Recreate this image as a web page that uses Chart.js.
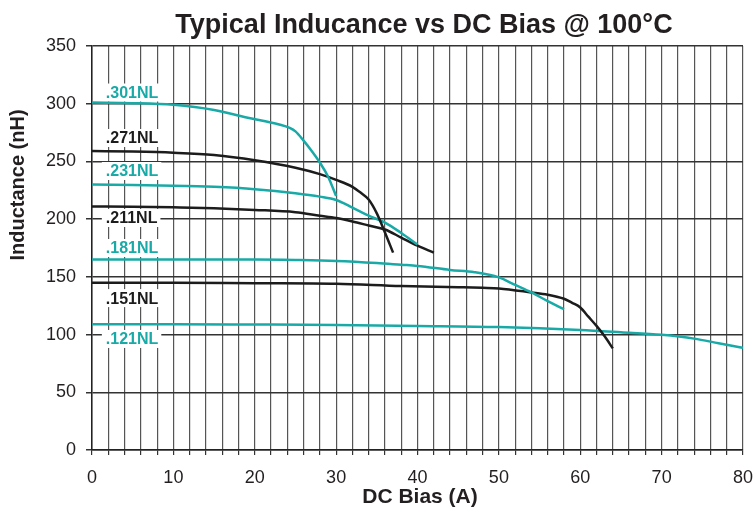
<!DOCTYPE html>
<html>
<head>
<meta charset="utf-8">
<script src="https://cdn.jsdelivr.net/npm/chart.js@4"></script>
<style>
    body { margin: 0; background: #fff; }
    #wrap { width: 753px; height: 512px; position: relative; }
</style>
</head>
<body>
<div id="wrap"><canvas id="chart"></canvas></div>
<script>
// curves, x = DC bias (A), y = inductance (nH)
const parts = [".301NL", ".271NL", ".231NL", ".211NL", ".181NL", ".151NL", ".121NL"];

const bias301 = [0, 5, 10, 15, 19, 23, 24.3, 25, 26, 27, 28, 29, 30];
const ind301 = [301, 300.5, 299, 294.5, 288, 282, 279, 276, 268, 259, 249, 237, 220];

const bias271 = [0, 5, 10, 15, 20, 25, 28, 30, 32, 33, 34, 35, 36, 37];
const ind271 = [259, 258.5, 257.5, 255.5, 251, 244.5, 239, 234, 228, 223, 217, 205, 188.5, 171];

const bias231 = [0, 5, 10, 15, 20, 25, 28, 30, 32, 34, 36, 38, 40];
const ind231 = [230, 229.5, 229, 228, 226, 222.5, 219.5, 216.6, 210, 203, 197, 188, 178];

const bias211 = [0, 5, 10, 15, 20, 25, 28, 30, 32, 34, 36, 38, 40, 42];
const ind211 = [211, 210.8, 210.2, 209.4, 208, 206, 203, 201, 198, 194.5, 191, 184, 177, 171];

const bias181 = [0, 10, 20, 25, 30, 35, 38, 40, 44, 47, 50, 52, 54, 56, 58];
const ind181 = [165, 165, 165, 164.6, 163.8, 162, 160.5, 159.5, 156, 154, 149.5, 143, 136.5, 129, 122];

const bias151 = [0, 10, 20, 30, 38, 45, 48, 50, 54, 56, 58, 59, 60, 61, 62, 63, 64];
const ind151 = [145, 145, 144.5, 144, 142, 141, 140.5, 140, 136.5, 134.5, 131, 127.5, 123.5, 115.5, 107.5, 98.5, 88];

const bias121 = [0, 10, 20, 30, 40, 50, 60, 65, 70, 74, 77, 80];
const ind121 = [109, 109, 108.7, 108.3, 107.5, 106.5, 104, 102, 99.8, 96.5, 92.5, 88.5];

// where each part name sits (data units)
const tagBias = 1.7;
const tagInd = [309.7, 270.3, 241.7, 201, 175, 131.6, 96.2];

const xTicks = [0, 10, 20, 30, 40, 50, 60, 70, 80];
const yTicks = [0, 50, 100, 150, 200, 250, 300, 350];

const TEAL = "#19aaa7";
const DARK = "#1c1c1c";
const FONT = "'Liberation Sans', Arial, sans-serif";

const series = [
    [bias301, ind301, TEAL],
    [bias271, ind271, DARK],
    [bias231, ind231, TEAL],
    [bias211, ind211, DARK],
    [bias181, ind181, TEAL],
    [bias151, ind151, DARK],
    [bias121, ind121, TEAL]
];

const toPoints = (xs, ys) => xs.map((x, i) => ({ x: x, y: ys[i] }));

const tagPlugin = {
    id: "tags",
    beforeDatasetsDraw(chart) {
        const ctx = chart.ctx;
        const sx = chart.scales.x;
        const sy = chart.scales.y;
        ctx.save();
        ctx.font = "bold 16px " + FONT;
        ctx.textBaseline = "middle";
        ctx.textAlign = "left";
        parts.forEach((name, i) => {
            const px = sx.getPixelForValue(tagBias);
            const py = sy.getPixelForValue(tagInd[i]);
            const w = ctx.measureText(name).width;
            ctx.fillStyle = "#fff";
            ctx.fillRect(px - 4, py - 9, w + 7, 18);
            ctx.fillStyle = series[i][2];
            ctx.fillText(name, px, py + 1);
        });
        ctx.restore();
    },
    afterDraw(chart) {
        const ctx = chart.ctx;
        ctx.save();
        ctx.fillStyle = "#231f20";
        ctx.textAlign = "center";
        ctx.textBaseline = "alphabetic";
        ctx.font = "bold 27px " + FONT;
        ctx.fillText("Typical Inducance vs DC Bias @ 100°C", 424, 33);

        ctx.font = "bold 21px " + FONT;
        ctx.fillText("DC Bias (A)", 420, 503);

        ctx.translate(24, 185);
        ctx.rotate(-Math.PI / 2);
        ctx.font = "bold 20px " + FONT;
        ctx.fillText("Inductance (nH)", 0, 0);
        ctx.restore();
    }
};

window.addEventListener("load", () => {
    const ctx = document.querySelector("#chart");

    new Chart(ctx, {
        type: "line",
        data: {
            datasets: series.map((s, i) => ({
                label: parts[i],
                data: toPoints(s[0], s[1]),
                borderColor: s[2],
                borderWidth: 2.5,
                pointRadius: 0,
                fill: false,
                cubicInterpolationMode: "monotone"
            }))
        },
        options: {
            responsive: true,
            maintainAspectRatio: false,
            animation: false,
            events: [],
            layout: {
                padding: { top: 46, right: 0, left: 0, bottom: 0 }
            },
            scales: {
                x: {
                    type: "linear",
                    min: 0,
                    max: 80,
                    afterFit: (scale) => {
                        scale.height = 62;
                        scale.paddingLeft = 0;
                        scale.paddingRight = 10;
                    },
                    ticks: {
                        stepSize: 2,
                        autoSkip: false,
                        maxRotation: 0,
                        padding: 12,
                        color: "#231f20",
                        font: { family: FONT, size: 18 },
                        callback: (v) => xTicks.includes(v) ? String(v) : ""
                    },
                    grid: {
                        color: "#555",
                        lineWidth: 1.2,
                        tickLength: 5,
                        tickColor: "#333"
                    },
                    border: { color: "#222", width: 1.5 }
                },
                y: {
                    min: 0,
                    max: 350,
                    afterFit: (scale) => { scale.width = 92; },
                    afterBuildTicks: (scale) => {
                        scale.ticks = yTicks.map(v => ({ value: v }));
                    },
                    ticks: {
                        padding: 10,
                        color: "#231f20",
                        font: { family: FONT, size: 18 }
                    },
                    grid: {
                        color: "#333",
                        lineWidth: 1.5,
                        tickLength: 6,
                        tickColor: "#333"
                    },
                    border: { color: "#222", width: 1.5 }
                }
            },
            plugins: {
                legend: { display: false },
                tooltip: { enabled: false },
                title: { display: false }
            }
        },
        plugins: [tagPlugin]
    });
});
</script>
</body>
</html>
